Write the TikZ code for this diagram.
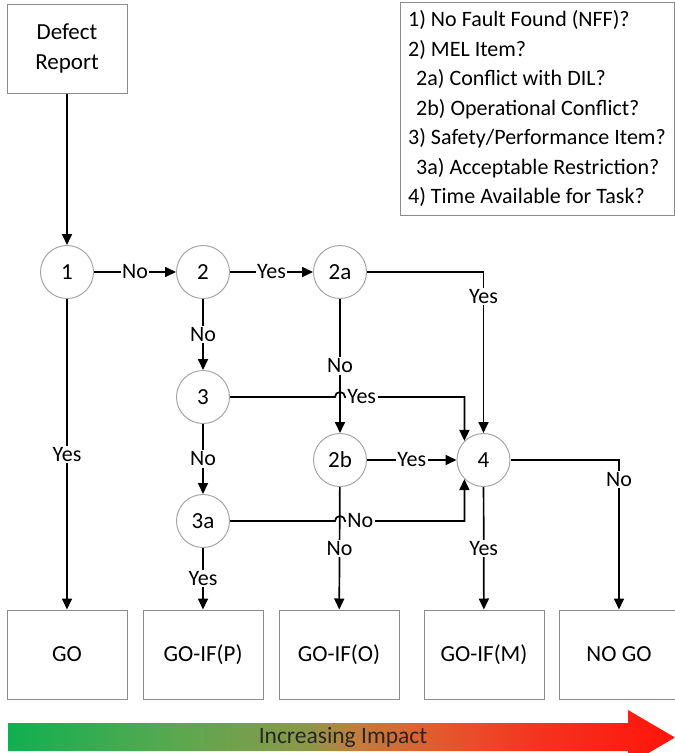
\documentclass[tikz,border=0pt]{standalone}
\usepackage{fontspec}
\setmainfont{Carlito}
\usetikzlibrary{arrows.meta,calc}
\definecolor{boxgray}{HTML}{8C8C8C}
\definecolor{ringgray}{HTML}{A6A6A6}
\definecolor{imp0}{RGB}{16,176,80}
\definecolor{imp1}{RGB}{90,168,80}
\definecolor{imp2}{RGB}{140,152,72}
\definecolor{imp3}{RGB}{195,125,60}
\definecolor{imp4}{RGB}{228,88,45}
\definecolor{imp5}{RGB}{245,50,30}
\definecolor{imp6}{RGB}{255,20,10}
\pgfdeclarehorizontalshading{impactshade}{100bp}{color(0bp)=(imp0); color(25bp)=(imp0);
  color(37.5bp)=(imp1); color(47.5bp)=(imp2); color(51bp)=(imp3); color(57.5bp)=(imp4);
  color(65bp)=(imp5); color(75bp)=(imp6); color(100bp)=(imp6)}
\tikzset{
  box/.style={draw=boxgray, line width=1pt, minimum width=120pt, minimum height=89pt, align=center, font=\fontsize{23}{30}\selectfont},
  qnode/.style={circle, draw=ringgray, line width=1pt, minimum size=53pt, inner sep=0pt, font=\fontsize{23}{29}\selectfont},
  flow/.style={line width=1.7pt, -{Triangle[length=11pt,width=10pt]}},
  lbl/.style={fill=white, inner sep=1.5pt, font=\fontsize{22}{29}\selectfont},
}

\begin{document}
\begin{tikzpicture}[x=1pt,y=-1pt]
  \useasboundingbox (0,0) rectangle (675,753);

  % start and outcomes
  \node[box] (report) at (67,48.5) {Defect\\Report};
  \node[box] (go)   at (67,654.5)  {GO};
  \node[box] (gop)  at (203,654.5) {GO-IF(P)};
  \node[box] (goo)  at (339,654.5) {GO-IF(O)};
  \node[box] (gom)  at (484,654.5) {GO-IF(M)};
  \node[box] (nogo) at (619,654.5) {NO GO};

  % questions
  \node[qnode] (q1)  at (67,272)  {1};
  \node[qnode] (q2)  at (203,272) {2};
  \node[qnode] (q2a) at (340,272) {2a};
  \node[qnode] (q3)  at (203,397) {3};
  \node[qnode] (q2b) at (340,460) {2b};
  \node[qnode] (q3a) at (203,521) {3a};
  \node[qnode] (q4)  at (483.5,460) {4};

  % key
  \draw[draw=boxgray, line width=1pt] (400,2) rectangle (674,215);
  \node[anchor=west, align=left, inner sep=0pt, font=\fontsize{22}{29.5}\selectfont] (key) at (408,108.5)
    {1) No Fault Found (NFF)?\\
     2) MEL Item?\\
     \hspace*{8pt}2a) Conflict with DIL?\\
     \hspace*{8pt}2b) Operational Conflict?\\
     3) Safety/Performance Item?\\
     \hspace*{8pt}3a) Acceptable Restriction?\\
     4) Time Available for Task?};

  \draw[flow] (report) -- (q1);
  \draw[flow] (q1) -- node[lbl] {No} (q2);
  \draw[flow] (q2) -- node[lbl] {Yes} (q2a);
  \draw[flow] (q2a) -| node[lbl, pos=0.575] {Yes} (q4);
  \draw[flow] (q1) -- node[lbl] {Yes} (go);
  \draw[flow] (q2) -- node[lbl] {No} (q3);
  \draw[flow] (q3) -- node[lbl] {No} (q3a);
  \draw[flow] (q3a) -- node[lbl] {Yes} (gop);
  \draw[flow] (q2a) -- node[lbl] {No} (q2b);
  \draw[flow] (q2b) -- node[lbl] {Yes} (q4);
  \draw[flow] (q2b) -- node[lbl] {No} (goo);
  \draw[flow] (q4) -- node[lbl] {Yes} (gom);
  \draw[flow] (q4) -| node[lbl, pos=0.565] {No} (nogo);

  % lines that hop over the 2a/2b line
  \draw[flow] (q3) -- ($(q3 -| q2a)+(-5,0)$) arc[start angle=180, end angle=0, radius=5pt]
    node[lbl, anchor=west] {Yes} -| (q4.north west);
  \draw[flow] (q3a) -- ($(q3a -| q2b)+(-5,0)$) arc[start angle=180, end angle=0, radius=5pt]
    node[lbl, anchor=west] {No} -| (q4.south west);

  % impact bar
  \shade[shading=impactshade]
    (8,723) -- (628,723) -- (628,710) -- (675,737.5) -- (628,765) -- (628,751) -- (8,751) -- cycle;
  \node[font=\fontsize{23.5}{29}\selectfont, text=black!85] (impact) at (343,737) {Increasing Impact};
\end{tikzpicture}
\end{document}
